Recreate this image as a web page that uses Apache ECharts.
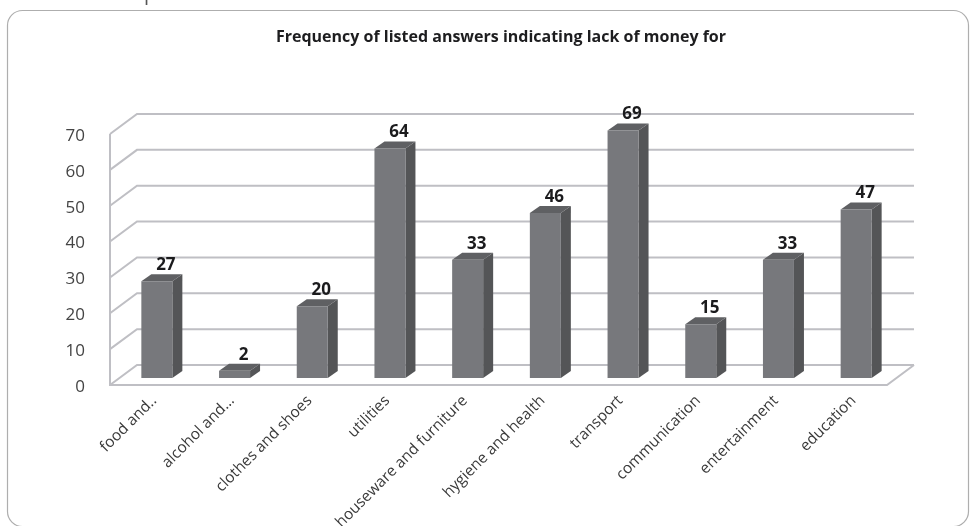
<!DOCTYPE html>
<html><head><meta charset="utf-8">
<style>html,body{margin:0;padding:0;background:#fff;overflow:hidden}#c{width:970px;height:526px}</style>
<script src="https://cdn.jsdelivr.net/npm/echarts@6/dist/echarts.min.js"></script>
</head><body><div id="c"></div>
<script>
const categories = ['food and..','alcohol and…','clothes and shoes','utilities','houseware and furniture','hygiene and health','transport','communication','entertainment','education'];
const values = [27,2,20,64,33,46,69,15,33,47];
const yTicks = [0,10,20,30,40,50,60,70];
const title = 'Frequency of listed answers indicating lack of money for';
const font = '"Open Sans","Noto Sans",sans-serif';
const wallDX = 27, wallDY = -20, barDX = 10, barDY = -7, barW = 31, barShiftX = 8, barShiftY = -7;
const wallColor = '#bfbfc4';

const chart = echarts.init(document.getElementById('c'), null, {renderer:'canvas'});
const wallLine = {stroke: wallColor, lineWidth: 2, fill:'none'};
chart.setOption({
  animation:false,
  backgroundColor:'#fff',
  title:{text:title,left:496,top:24,textAlign:'center',textStyle:{fontFamily:font,fontSize:16,fontWeight:'bold',color:'#1d1d1f'}},
  grid:{left:110,right:83,top:134,bottom:141,containLabel:false,outerBoundsMode:'none'},
  xAxis:{type:'category',data:categories,axisTick:{show:false},axisLine:{show:false},splitLine:{show:false},
    axisLabel:{rotate:45,interval:0,margin:8,verticalAlign:'top',fontFamily:font,fontSize:15.4,color:'#3a3a3a',hideOverlap:false}},
  yAxis:{type:'value',min:0,max:70,interval:10,axisLine:{show:false},axisTick:{show:false},splitLine:{show:false},
    axisLabel:{margin:25,fontFamily:font,fontSize:17,color:'#444',formatter:'{a|{value}}',
      rich:{a:{padding:[4,0,0,0],fontFamily:font,fontSize:17,color:'#444'}}}},
  graphic:[
    {type:'rect',z:0,silent:true,shape:{x:7.5,y:10.5,width:961,height:516,r:15},style:{fill:'#fff',stroke:'#aeaeae',lineWidth:1.2}},
    {type:'text',z:0,silent:true,x:97,y:-16,style:{text:'Group',fontFamily:font,fontSize:20,fill:'#555'}}
  ],
  series:[
    {type:'custom',name:'walls',coordinateSystem:'cartesian2d',silent:true,z:1,clip:false,
     data:yTicks.map(t=>[0,t]),
     renderItem(params,api){
       const v=api.value(1), cs=params.coordSys;
       const y=api.coord([0,v])[1], x0=cs.x, x1=cs.x+cs.width;
       const kids=[{type:'polyline',shape:{points:[[x0,y],[x0+wallDX,y+wallDY],[x1+wallDX,y+wallDY]]},style:wallLine}];
       if(v===0){
         kids.push({type:'polyline',shape:{points:[[x0,cs.y],[x0,y],[x1,y],[x1+wallDX,y+wallDY]]},style:wallLine});
       }
       return {type:'group',children:kids};
     },
     encode:{x:0,y:1}},
    {type:'custom',name:'bars',coordinateSystem:'cartesian2d',silent:true,z:2,clip:false,
     data:values.map((v,i)=>[i,v]),
     renderItem(params,api){
       const i=api.value(0), v=api.value(1);
       const top=api.coord([i,v]), base=api.coord([i,0]);
       const l=top[0]+barShiftX-barW/2, r=l+barW, t=top[1]+barShiftY, b=base[1]+barShiftY;
       return {type:'group',children:[
         {type:'polygon',shape:{points:[[r,t],[r+barDX,t+barDY],[r+barDX,b+barDY],[r,b]]},style:{fill:'#545557'}},
         {type:'polygon',shape:{points:[[l,t],[l+barDX,t+barDY],[r+barDX,t+barDY],[r,t]]},style:{fill:'#5f6063'}},
         {type:'rect',shape:{x:l,y:t,width:barW,height:b-t},style:{fill:'#77787c'}},
         {type:'text',x:(l+r)/2+barDX*0.9,y:t+barDY-9,style:{text:String(v),fontFamily:font,fontSize:17,fontWeight:'bold',fill:'#1b1b1d',align:'center',verticalAlign:'middle'}}
       ]};
     },
     encode:{x:0,y:1}}
  ]
});
</script></body></html>
